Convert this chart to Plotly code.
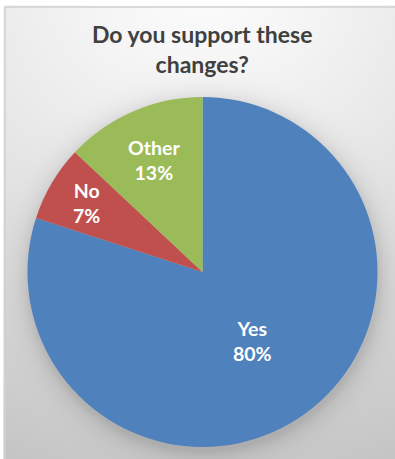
import numpy as np
import plotly.graph_objects as go

# Survey answers
labels = ["Yes", "No", "Other"]
values = [80, 7, 13]
colors = ["#4F81BD", "#C0504D", "#9BBB59"]
title_text = "Do you support these<br>changes?"

W, H = 395, 459
FRAME_X, FRAME_Y = 5, 7          # left / top edge of the chart frame (px)
PIE_CX, PIE_CY, PIE_R = 202.5, 272.0, 175.0
label_radius = {"Yes": 0.49, "No": 0.77, "Other": 0.70}

# Background shading: light at the top centre, grey towards the bottom,
# plus a soft shadow ring around the pie.
xs = np.arange(FRAME_X, W + 3, 3.0)
ys = np.arange(FRAME_Y, H + 3, 3.0)
gx, gy = np.meshgrid(xs, ys)
d_top = np.hypot(gx - 200, gy + 30) / 520.0
base = 252 - 55 * np.clip(d_top, 0, 1) ** 1.3
d_pie = np.hypot(gx - PIE_CX, gy - (PIE_CY + 3)) - PIE_R
shadow = 30 * np.exp(-np.clip(d_pie, 0, None) / 10.0)
shade = base - shadow

fig = go.Figure()
fig.add_trace(go.Heatmap(
    x=xs, y=ys, z=shade, zmin=0, zmax=255, zsmooth="best",
    colorscale=[[0, "rgb(0,0,0)"], [1, "rgb(255,255,255)"]],
    showscale=False, hoverinfo="skip",
))

fig.add_trace(go.Pie(
    labels=labels, values=values, sort=False, direction="clockwise",
    rotation=0, marker=dict(colors=colors, line=dict(width=0)),
    textinfo="none", hoverinfo="label+percent", showlegend=False,
    domain=dict(x=[(PIE_CX - PIE_R) / W, (PIE_CX + PIE_R) / W],
                y=[1 - (PIE_CY + PIE_R) / H, 1 - (PIE_CY - PIE_R) / H]),
))

# Slice labels at each slice's mid angle
total = sum(values)
start = 0.0
annotations = []
for lab, v in zip(labels, values):
    frac = v / total
    mid = (start + frac / 2) * 2 * np.pi
    start += frac
    r = label_radius[lab] * PIE_R
    px = PIE_CX + r * np.sin(mid)
    py = PIE_CY - r * np.cos(mid)
    annotations.append(dict(
        x=px, y=py, xref="x", yref="y", showarrow=False,
        text=f"<b>{lab}<br>{round(frac * 100)}%</b>",
        font=dict(family="Lato", size=19.5, color="white"),
        xanchor="center", yanchor="middle",
    ))

annotations.append(dict(
    x=201.5, y=49, xref="x", yref="y", showarrow=False,
    text=f"<b>{title_text}</b>",
    font=dict(family="Lato", size=23, color="#404040"),
    xanchor="center", yanchor="middle",
))

shapes = [
    dict(type="line", xref="x", yref="y", x0=FRAME_X, x1=FRAME_X,
         y0=FRAME_Y, y1=H + 5, line=dict(color="#d0d0d0", width=1.5),
         layer="above"),
    dict(type="line", xref="x", yref="y", x0=FRAME_X, x1=W + 5,
         y0=FRAME_Y, y1=FRAME_Y, line=dict(color="#d0d0d0", width=1.5),
         layer="above"),
]

fig.update_layout(
    width=W, height=H, margin=dict(l=0, r=0, t=0, b=0),
    paper_bgcolor="white", plot_bgcolor="white",
    xaxis=dict(range=[0, W], visible=False, fixedrange=True),
    yaxis=dict(range=[H, 0], visible=False, fixedrange=True),
    annotations=annotations, shapes=shapes,
)

fig.write_html("out.html")
